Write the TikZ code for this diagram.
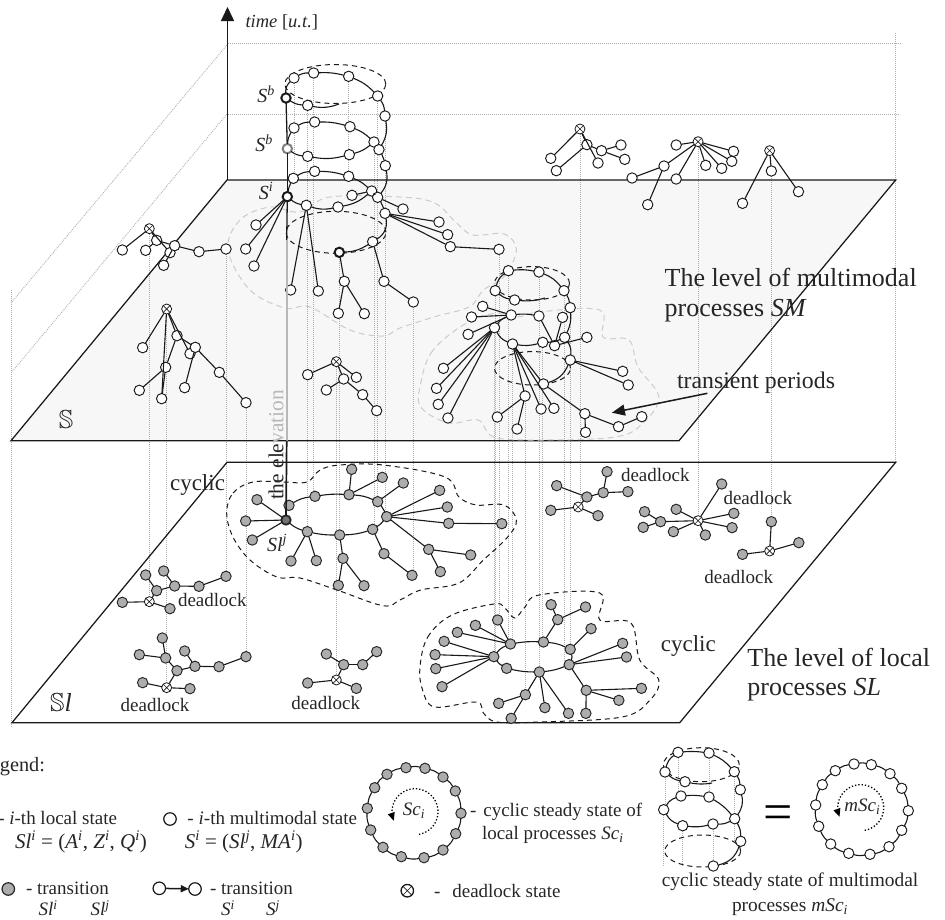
\documentclass[tikz,border=0pt]{standalone}
\usepackage{fontspec}
\usepackage{amssymb}
\setmainfont{Liberation Serif}
\usetikzlibrary{arrows.meta,shapes.misc,bending}
\pgfdeclarelayer{bg}
\pgfsetlayers{bg,main}
\definecolor{planefill}{gray}{0.97}
\definecolor{nodegray}{gray}{0.68}
\newcommand\fs[1]{\fontsize{#1}{#1}\selectfont}
\newcommand\Sup[2]{\textit{#1}\textsuperscript{\textit{#2}}}
\newcommand\Nd[2]{\foreach \n/\x/\y in {#2}{\node[#1] (\n) at (\x,\y) {};}}
\newcommand\Ed[1]{\foreach \p/\q in {#1}{\draw[edge] (\p) -- (\q);}}
\newcommand\Cv[1]{\foreach \p/\q/\b in {#1}{\draw[edge] (\p) to[bend right=\b] (\q);}}
\newcommand\Dt[1]{\foreach \p/\q in {#1}{\draw[guide] (\p) -- (\p |- \q);}}
\tikzset{
  x=1pt,y=-1pt,
  every node/.style={inner sep=0pt,outer sep=0pt},
  wn/.style={circle,draw=black!90,fill=white,line width=0.95pt,minimum size=10.4pt},
  gn/.style={circle,draw=black!85,fill=nodegray,line width=0.95pt,minimum size=10.4pt},
  thickw/.style={wn,line width=2pt,minimum size=9.4pt},
  thickg/.style={wn,draw=black!50,line width=2pt,minimum size=9.4pt},
  thickd/.style={gn,fill=black!55,line width=1.8pt,minimum size=9.4pt},
  xn/.style={circle,draw=black!90,fill=white,line width=0.8pt,minimum size=10pt,
    path picture={\draw[line width=0.6pt] (path picture bounding box.north west)--(path picture bounding box.south east)
      (path picture bounding box.north east)--(path picture bounding box.south west);}},
  edge/.style={line width=1.1pt,black!90},
  guide/.style={line width=0.85pt,black!32,dash pattern=on 0.9pt off 1.1pt},
  dashB/.style={line width=1pt,black!90,dash pattern=on 5pt off 4pt},
  dashG/.style={line width=1pt,black!20,dash pattern=on 6pt off 4pt},
  plane/.style={line width=1.25pt,black!90},
  txt/.style={text=black!85},
  zA/.style={xscale=1/3,yscale=1/3},
  zB/.style={shift={(400,90)},xscale=.3474,yscale=1/3},
  zC/.style={shift={(0,450)},xscale=1/3,yscale=1/3},
  zD/.style={shift={(400,450)},xscale=.3474,yscale=1/3},
}
\begin{document}
\begin{tikzpicture}
\useasboundingbox (0,0) rectangle (945,919);
% planes
\begin{pgfonlayer}{bg}
\fill[planefill] (227,180)--(895.7,180)--(679,440.7)--(11,440.7)--cycle;
\end{pgfonlayer}
\draw[plane] (227,180)--(895.7,180)--(679,440.7)--(11,440.7)--cycle;
\draw[plane] (227,462.3)--(895.7,462.3)--(679.7,722.7)--(12,722.7)--cycle;
% axis
\coordinate (axo) at (227.5,180);
\coordinate (axt) at (227.5,7);
\draw[line width=1.4pt,black!90,-{Triangle[length=14pt,width=13pt]}] (axo)--(axt);
% guide grid
\begin{pgfonlayer}{bg}
\draw[guide] (228,43)--(902,43);
\draw[guide] (228,114)--(900,114);
\draw[guide] (895.5,33)--(895.5,462);
\draw[guide] (227,45)--(11,303);
\draw[guide] (227,114)--(11,373);
\draw[guide] (11,290)--(11,727);
\end{pgfonlayer}
% transient blobs
\draw[dashG] plot[smooth cycle,tension=.6] coordinates {(400,197)(434.7,203)(455.6,222)(473,235)(504,234)(516.4,250)(504,276.7)(483.4,290)(469.5,306.7)(434.7,316.7)(400,328)(383,336)(350,330)(310,307)(285,308)(250,290)(228,250)(240,220)(270,207)(300,212)(330,197)};
\draw[dashG] plot[smooth cycle,tension=.6] coordinates {(420.8,383)(431,353)(455.6,330)(480,317)(500.7,313)(518,317)(539,312)(599.8,310)(603,337)(629,340)(638,367)(658.8,397)(643,423)(615.4,437)(539,440)(493.8,437)(478,420)(448.6,423)(420.8,407)};
% cyclic outlines
\draw[dashB] plot[smooth cycle,tension=.6] coordinates {(226.7,513)(233,493)(253,482)(283,482)(307,482)(320,470)(340,465)(383,465)(445,477)(459,497)(476.4,505)(504,505)(516.4,520)(507.7,537)(483.4,560)(459,583)(420.8,590)(400,600)(383,605.7)(337,590)(300,578)(277,577)(250,560)(233,537)};
\draw[dashB] plot[smooth cycle,tension=.6] coordinates {(420,667)(427.8,637)(452,615)(493.8,604)(504,607)(514.6,618)(525,607)(539,595)(599.8,593)(599.8,620)(631,623)(639.7,660)(658.8,680)(650,700)(622,717)(539,722)(497,722)(483.4,713)(476.4,702)(434.7,707)(422.6,690)};
% cylinder ellipses
\draw[dashB] (335.3,84) ellipse [x radius=50.5pt,y radius=19.5pt];
\draw[dashB] (336,232.3) ellipse [x radius=50pt,y radius=21pt];
\draw[dashB] (532,283.3) ellipse [x radius=37.5pt,y radius=16.7pt];
\draw[dashB] (532.5,368.3) ellipse [x radius=38pt,y radius=16.7pt];
\draw[dashB] (701.3,764.7) ellipse [x radius=38pt,y radius=17pt];
\draw[dashB] (702.7,851) ellipse [x radius=38pt,y radius=16pt];
%----- S nodes
\begin{scope}[zA]
\Nd{thickw}{t1/858/294,b1/862/590,b17/1018/757}
\Nd{thickg}{m1/862/446}
\Nd{wn}{t2/882/234,t3/941/219,t4/1046/229,t5/1133/288,t6/923/316,t7/1155/348,
 m2/882/384,m3/944/366,m4/1050/380,m5/1122/426,m6/1137/449,m7/923/469,m8/1048/464,m9/1156/497,
 b2/880/535,b3/944/514,b4/1046/529,b5/1115/573,b6/1056/586,b7/1133/592,b8/919/616,b9/1014/621,b10/1155/640,
 b11/1209/627,b12/1317/666,b13/1343/704,b14/1351/740,b16/1118/725,b18/1033/844,b19/1015/940,b20/1093/941,
 b21/1152/844,b22/1240/906,b23/872/870,b24/955/873,b25/768/675,b26/737/747,b27/762/798}
\Nd{xn}{sA0/448/686,sB0/500/927,sC0/1009/1085}
\Nd{wn}{sA1/367/750,sA2/510/758,sA3/470/721,sA4/437/751,sA5/524/737,sA6/491/796,sA7/597/755,sA8/678/747,
 sB1/428/1043,sB2/570/1061,sB3/531/1007,sB4/497/1102,sB5/418/1171,sB6/485/1196,sB7/586/1042,sB8/554/1163,sB9/658/1117,sB10/738/1208,
 sC1/923/1124,sC2/1069/1132,sC3/1031/1137,sC4/979/1170,sC5/1088/1184,sC6/1130/1232}
\end{scope}
\begin{scope}[zB]
\Nd{wn}{b15/285/478}
\Nd{xn}{sD0/518/117,sE0/858/155,sF0/1064/182}
\Nd{wn}{sD1/434/205,sD2/570/219,sD3/538/164,sD4/450/242,sD5/580/182,sD6/636/165,sD7/647/208,
 sE1/795/165,sE2/760/228,sE3/668/264,sE4/713/344,sE5/795/267,sE6/880/226,sE7/926/235,sE8/955/214,sE9/960/184,
 sF1/1069/243,sF2/986/340,sF3/1147/305,
 c1/312/542,c2/400/546,c3/472/602,c4/274/602,c5/330/630,c6/490/653,
 c7/320/675,c8/400/678,c9/468/682,c10/272/713,c11/324/762,c12/411/757,c13/474/742,c14/445/767,c15/538/742,c16/490/810,c17/413/882,
 c18/238/649,c19/206/681,c20/196/733,c21/125/835,c22/105/895,c23/110/943,c24/138/984,
 c25/360/918,c26/280/981,c27/337/1017,c28/406/957,c29/443/955,c30/532/971,c31/534/1027,c32/629/1010,c33/696/980,c34/641/844,c35/657/885}
\end{scope}
\coordinate (t6e) at (339,104);
\coordinate (c5e) at (545,298);
%----- Sl nodes
\begin{scope}[zC]
\Nd{thickd}{r1/858/210}
\Nd{gn}{r2/867/166,r3/945/139,r4/1047/134,r5/1133/155,r6/1160/200,r7/1118/238,r8/1019/255,r9/922/245,
 r10/771/149,r11/737/213,r12/757/270,r13/1055/58,r14/1147/82,r15/1210/99,r16/1319/121,r17/1342/171,r18/1346/220,
 r20/1286/298,r21/1412/315,r22/1321/365,r23/1152/311,r24/1236/376,r25/1029/325,r26/1015/406,r27/1092/407,r28/873/333,r29/949/332}
\Nd{xn}{lA0/448/455,lB0/500/713,lC0/1009/690}
\Nd{gn}{lA1/367/457,lA2/510/476,lA3/470/422,lA4/437/375,lA5/524/408,lA6/491/363,lA7/597/409,lA8/678/379,
 lB1/428/698,lB2/570/716,lB3/531/662,lB4/497/624,lB5/418/614,lB6/487/564,lB7/585/649,lB8/554/603,lB9/657/650,lB10/738/620,
 lC1/923/699,lC2/1069/715,lC3/1031/644,lC4/979/612,lC5/1088/644,lC6/1130/605}
\end{scope}
\begin{scope}[zD]
\Nd{gn}{r19/293/221}
\Nd{xn}{lD0/513/171,lE0/858/212,lF0/1064/303}
\Nd{gn}{lD1/434/181,lD2/570/197,lD3/538/141,lD4/451/107,lD5/585/128,lD6/596/65,lD7/656/125,
 lE1/795/178,lE2/750/215,lE3/704/185,lE4/700/232,lE5/787/245,lE6/879/255,lE7/926/102,lE8/961/190,lE9/956/233,
 lF1/1069/215,lF2/986/313,lF3/1148/278,
 q1/270/620,q2/318/582,q3/413/576,q4/490/598,q5/487/644,q6/401/666,q7/307/655,
 q8/127/574,q9/101/614,q10/103/656,q11/121/710,q12/165/547,q13/217/526,q14/281/510,q15/454/509,q16/435/464,q17/534/471,q18/550/536,
 q19/641/580,q20/652/621,q21/536/721,q22/695/715,q23/630/751,q24/535/790,q25/361/734,q26/284/760,q27/320/805,q28/417/773,q29/485/790}
\end{scope}
% vertical elevation line
\coordinate (ev1) at (286.7,240);
\coordinate (ev2) at (286.7,440.7);
\draw[line width=1.3pt,black!90] (t1)--(m1);
\draw[line width=1.3pt,black!90] (m1)--(b1);
\draw[line width=1.3pt,black!90] (b1)--(ev1);
\draw[line width=2.4pt,black!28] (ev1)--(ev2);
\draw[line width=1.7pt,black!90] (ev2)--(r1);
% S edges
\Cv{t1/t2/-25,t2/t3/-15,t3/t4/-8,t4/t5/-12,t1/t6/15,t6/t6e/15,t5/t7/-15,t7/m6/-20,m6/m9/-10,m9/b7/-25,b7/b10/-10,b10/b16/-35,b16/b17/-15,
 m1/m2/-15,m2/m3/-15,m3/m4/-8,m4/m5/-10,m1/m7/15,m7/m8/12,m8/m5/12,
 b1/b2/-10,b2/b3/-15,b3/b4/-8,b4/b5/-10,b1/b8/15,b8/b9/15,b9/b5/15}
\Ed{b5/b6,b5/b7,b7/b11,b10/b12,b10/b13,b10/b14,b14/b15,b17/b18,b18/b19,b18/b20,b16/b21,b21/b22,b8/b23,b8/b24,b1/b25,b1/b26,b1/b27}
\Ed{sA0/sA1,sA0/sA2,sA0/sA3,sA3/sA4,sA3/sA5,sA5/sA6,sA5/sA7,sA7/sA8,
 sB0/sB1,sB0/sB2,sB0/sB3,sB3/sB4,sB4/sB5,sB4/sB6,sB3/sB7,sB7/sB8,sB7/sB9,sB9/sB10,sB0/sB6,
 sC0/sC1,sC0/sC2,sC0/sC3,sC3/sC4,sC3/sC5,sC5/sC6,
 sD0/sD1,sD0/sD2,sD0/sD3,sD3/sD4,sD3/sD5,sD5/sD6,sD5/sD7,
 sE0/sE1,sE0/sE2,sE2/sE3,sE2/sE4,sE0/sE5,sE0/sE6,sE0/sE7,sE0/sE8,sE0/sE9,
 sF0/sF1,sF0/sF2,sF0/sF3}
\Cv{c4/c1/-20,c1/c2/-8,c2/c3/-15,c4/c5/15,c5/c5e/10,c3/c6/-12,c6/c13/-15,c13/c16/-20,c16/c17/-25,
 c10/c7/-15,c7/c8/-8,c10/c11/20,c11/c12/12,c12/c13/12}
\Ed{c7/c18,c7/c19,c7/c20,c10/c21,c10/c22,c10/c23,c10/c24,c11/c25,c11/c28,c11/c29,c11/c17,c17/c30,c25/c26,c25/c27,c30/c31,c30/c32,c32/c33,c16/c34,c16/c35,c8/c14,c14/c9,c14/c15}
% Sl edges
\Cv{r1/r2/-15,r2/r3/-12,r3/r4/-6,r4/r5/-10,r5/r6/-10,r6/r7/-10,r7/r8/-8,r8/r9/-6,r9/r1/-12}
\Ed{r1/r10,r1/r11,r1/r12,r4/r13,r4/r14,r5/r15,r6/r16,r6/r17,r6/r18,r18/r19,r6/r20,r20/r21,r20/r22,r7/r23,r23/r24,r8/r25,r25/r26,r25/r27,r9/r28,r9/r29}
\Ed{lA0/lA1,lA0/lA2,lA0/lA3,lA3/lA4,lA3/lA5,lA5/lA6,lA5/lA7,lA7/lA8,
 lB0/lB1,lB0/lB2,lB0/lB3,lB3/lB4,lB4/lB5,lB4/lB6,lB3/lB7,lB7/lB8,lB7/lB9,lB9/lB10,
 lC0/lC1,lC0/lC2,lC0/lC3,lC3/lC4,lC3/lC5,lC5/lC6,
 lD0/lD1,lD0/lD2,lD0/lD3,lD3/lD4,lD3/lD5,lD5/lD6,lD5/lD7,
 lE0/lE1,lE0/lE2,lE2/lE3,lE2/lE4,lE0/lE5,lE0/lE6,lE0/lE7,lE0/lE8,lE0/lE9,
 lF0/lF1,lF0/lF2,lF0/lF3}
\Cv{q1/q2/-15,q2/q3/-6,q3/q4/-10,q4/q5/-20,q5/q6/-8,q6/q7/-6,q7/q1/-12}
\Ed{q1/q8,q1/q9,q1/q10,q1/q11,q2/q12,q2/q13,q2/q14,q3/q15,q15/q16,q15/q17,q4/q18,q5/q19,q5/q20,q5/q21,q21/q22,q21/q23,q21/q24,q6/q25,q25/q26,q25/q27,q6/q28,q6/q29}
% vertical guides between levels
\begin{pgfonlayer}{bg}
\Dt{sA0/lA0,sB0/lB0,sA8/lA8,sB10/lB10,t6/r9,t3/r3,sC0/lC0,b17/r8,m5/r7,t5/r5,t7/r6,b22/r24,t2/b2,t4/b4,
 sD0/lD0,sE0/lE0,sF1/lF1,c10/q1,b15/q14,c1/q2,c11/q2,c25/q25,c2/q6,c12/q3,c3/q5,c6/q4,c4/q1}
\end{pgfonlayer}
% arrow transient periods
\coordinate (trA) at (707.4,393.3);
\coordinate (trB) at (611.9,412.7);
\draw[line width=1.5pt,black!90,-{Triangle[length=13pt,width=11pt]}] (trA)--(trB);
% texts
\node[txt,anchor=west,font=\fs{18.5}] (lbtime) at (245.6,22) {\textit{time} [\textit{u.t.}]};
\node[txt,font=\fs{20}] (lbsb) at (266,94) {\Sup{S}{b}};
\node[txt,font=\fs{20}] (lbsg) at (264,143) {\Sup{S}{b}};
\node[txt,font=\fs{20}] (lbsi) at (266,191) {\Sup{S}{i}};
\node[txt,font=\fs{20}] (lbslj) at (277,542.7) {\Sup{Sl}{j}};
\node[txt,font=\fs{26}] (lbS) at (66,420) {$\mathbb{S}$};
\node[txt,font=\fs{26}] (lbSl) at (61,702) {$\mathbb{S}$\textit{l}};
\node[rotate=90,font=\fs{21.4}] (lbel) at (276,445) {{\color{black!85}the ele}{\color{black!28}vation}};
\node[txt,font=\fs{23}] (lbc1) at (197.5,485) {cyclic};
\node[txt,font=\fs{23}] (lbc2) at (688.3,646) {cyclic};
\node[txt,font=\fs{19}] (d1) at (212.3,600) {deadlock};
\node[txt,font=\fs{19}] (d2) at (155,705) {deadlock};
\node[txt,font=\fs{19}] (d3) at (325.7,703.3) {deadlock};
\node[txt,font=\fs{19}] (d4) at (655.3,475) {deadlock};
\node[txt,font=\fs{19}] (d5) at (757.8,498.3) {deadlock};
\node[txt,font=\fs{19}] (d6) at (738.7,576.7) {deadlock};
\node[txt,font=\fs{23.8}] (tp) at (756,382.3) {transient periods};
\node[txt,anchor=west,font=\fs{26}] (lm1) at (664.7,277) {The level of multimodal};
\node[txt,anchor=west,font=\fs{26}] (lm2) at (664.7,311) {processes \textit{SM}};
\node[txt,anchor=west,font=\fs{26}] (ll1) at (747.4,657) {The level of local};
\node[txt,anchor=west,font=\fs{26}] (ll2) at (747.4,690) {processes \textit{SL}};
% legend
\node[txt,anchor=east,font=\fs{20.3}] (lg) at (45,767) {Legend:};
\node[txt,anchor=east,font=\fs{19}] (lg1) at (117,817.7) {- \textit{i}-th local state};
\node[txt,font=\fs{21}] (lg1b) at (81,842) {\Sup{Sl}{i} = (\Sup{A}{i}, \Sup{Z}{i}, \Sup{Q}{i})};
\node[wn,minimum size=12.5pt,line width=1.2pt] (lgw) at (170,819) {};
\node[txt,anchor=east,font=\fs{19}] (lg2) at (357,817.7) {-\hspace{5pt}\textit{i}-th multimodal state};
\node[txt,font=\fs{21}] (lg2b) at (243.7,842) {\Sup{S}{i} = (\Sup{Sl}{j}, \textit{MA}\textsuperscript{\textit{i}})};
\node[gn,minimum size=12.5pt,line width=1.2pt] (lgg) at (8.3,889) {};
\node[txt,anchor=west,font=\fs{19}] (lg3) at (26,888) {- transition};
\node[txt,font=\fs{19}] (lg3a) at (48,908.5) {\Sup{Sl}{i}};
\node[txt,font=\fs{19}] (lg3b) at (100,908.5) {\Sup{Sl}{j}};
\node[wn,minimum size=12.5pt,line width=1.2pt] (lga) at (159.3,888.3) {};
\node[wn,minimum size=12.5pt,line width=1.2pt] (lgb) at (195,889) {};
\draw[line width=1.5pt,black!90,-{Triangle[length=8pt,width=7pt]}] (lga)--(lgb);
\node[txt,anchor=west,font=\fs{19}] (lg4) at (210,888) {- transition};
\node[txt,font=\fs{19}] (lg4a) at (228,908.5) {\Sup{S}{i}};
\node[txt,font=\fs{19}] (lg4b) at (273,908.5) {\Sup{S}{j}};
\node[xn,minimum size=12.5pt,line width=1.3pt] (lgx) at (407.3,890.7) {};
\node[txt,anchor=west,font=\fs{19}] (lg5) at (434,891) {-\hspace{12pt}deadlock state};
% Sc ring
\Nd{gn}{g1/406/767.7,g2/425/768.3,g3/443/777,g4/455.3/791,g5/461/813.3,g6/455.7/833.7,g7/443/850,g8/424/857.7,g9/401.3/856.7,g10/383/847.3,g11/370.7/830,g12/367.3/808.3,g13/374.7/787.7,g14/387/774.3}
\Cv{g1/g2/-12,g2/g3/-12,g3/g4/-12,g4/g5/-12,g5/g6/-12,g6/g7/-12,g7/g8/-12,g8/g9/-12,g9/g10/-12,g10/g11/-12,g11/g12/-12,g12/g13/-12,g13/g14/-12,g14/g1/-12}
\draw[line width=1.3pt,dotted,-{Triangle[length=8pt,width=7pt]}] plot[domain=80:-203,samples=40] ({415+23*cos(\x)},{811.7+23*sin(\x)});
\node[txt,font=\fs{19}] (lsc) at (414,811) {\textit{Sc}\textsubscript{\textit{i}}};
\node[txt,anchor=west,font=\fs{19}] (lsd) at (470,812) {-\hspace{7pt}cyclic steady state of};
\node[txt,anchor=west,font=\fs{19}] (lse) at (482,835) {local processes\hspace{5pt}\textit{Sc}\textsubscript{\textit{i}}};
% small cylinder
\Nd{wn}{y1/678/752.3,y2/709/753,y3/734.3/771.7,y4/665/772,y5/685/781.7,y6/740.3/789.7,y7/681/796,y8/709/797,y9/663.7/809.7,y10/734.7/818.7,y11/682.7/825.7,y12/713/824,y13/740.7/841.3,y14/713.3/866}
\coordinate (y5e) at (712,783);
\Cv{y4/y1/-20,y1/y2/-6,y2/y3/-12,y4/y5/15,y5/y5e/10,y3/y6/-15,y6/y10/-25,y10/y13/-15,y13/y14/-30,
 y9/y7/-20,y7/y8/-6,y8/y10/-10,y9/y11/20,y11/y12/10,y12/y10/15}
\begin{pgfonlayer}{bg}
\Dt{y4/y9,y1/y7,y2/y8,y3/y10,y9/y14,y11/y14,y12/y14,y10/y13}
\end{pgfonlayer}
\node[font=\fs{52}] (eq) at (778,818) {=};
% mSc ring
\Nd{wn}{h1/854/764,h2/871.3/764.7,h3/890/773.7,h4/901.7/788.3,h5/908.3/810.7,h6/901.7/830.3,h7/889/846.7,h8/870/854.3,h9/848.7/853.3,h10/830.7/844,h11/818.7/826.3,h12/815.7/805,h13/822.3/784.7,h14/835.3/770.7}
\Cv{h1/h2/-12,h2/h3/-12,h3/h4/-12,h4/h5/-12,h5/h6/-12,h6/h7/-12,h7/h8/-12,h8/h9/-12,h9/h10/-12,h10/h11/-12,h11/h12/-12,h12/h13/-12,h13/h14/-12,h14/h1/-12}
\draw[line width=1.3pt,dotted,-{Triangle[length=8pt,width=7pt]}] plot[domain=80:-203,samples=40] ({860.7+23*cos(\x)},{807.7+23*sin(\x)});
\node[txt,font=\fs{19}] (lmsc) at (862.3,806.7) {\textit{mSc}\textsubscript{\textit{i}}};
\node[txt,font=\fs{19.4}] (lcy) at (790,881.7) {cyclic steady state of multimodal};
\node[txt,font=\fs{19.4}] (lpr) at (790,906.7) {processes\hspace{5pt}\textit{mSc}\textsubscript{\textit{i}}};
\end{tikzpicture}
\end{document}
